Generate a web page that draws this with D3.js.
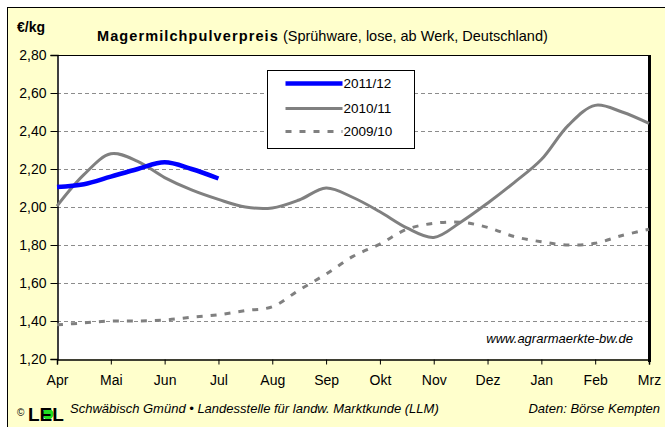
<!DOCTYPE html>
<html>
<head>
<meta charset="utf-8">
<script src="https://cdn.jsdelivr.net/npm/d3@7"></script>
<style>
  body { margin: 0; background: #fff; }
  svg { display: block; font-family: "Liberation Sans", Arial, sans-serif; }
</style>
</head>
<body>
<script>
// Monate (Wirtschaftsjahr April - März)
var months = ["Apr","Mai","Jun","Jul","Aug","Sep","Okt","Nov","Dez","Jan","Feb","Mrz"];

var y2011 = [2.105, 2.12, 2.16, 2.20, 2.235, 2.20, 2.15];
var y2010 = [2.005, 2.17, 2.28, 2.24, 2.155, 2.09, 2.04, 2.00, 1.995, 2.037, 2.10, 2.05,
             1.975, 1.89, 1.84, 1.92, 2.02, 2.13, 2.25, 2.43, 2.535, 2.50, 2.44];
var y2009 = [1.38, 1.39, 1.40, 1.40, 1.405, 1.42, 1.433, 1.455, 1.475, 1.563, 1.647, 1.74,
             1.805, 1.883, 1.914, 1.92, 1.893, 1.844, 1.817, 1.80, 1.809, 1.85, 1.883];

var yTicks = [1.2, 1.4, 1.6, 1.8, 2.0, 2.2, 2.4, 2.6, 2.8];
var seriesNames = ["2011/12", "2010/11", "2009/10"];

var width = 665, height = 427;
var plot = {left: 57, top: 55, right: 649, bottom: 359};

var de = d3.formatLocale({decimal: ",", thousands: ".", grouping: [3], currency: ["", " €"]});
var fmt = de.format(".2f");

var svg = d3.select("body").append("svg")
    .attr("width", width)
    .attr("height", height);

// Hintergrund
svg.append("rect")
    .attr("x", 7.5).attr("y", 7.5)
    .attr("width", 700).attr("height", 500)
    .attr("fill", "#ffffcc")
    .attr("stroke", "#000");

var x = d3.scaleLinear().domain([0, 11]).range([plot.left, plot.right]);
var y = d3.scaleLinear().domain([1.2, 2.8]).range([plot.bottom, plot.top]);

svg.append("rect")
    .attr("x", plot.left).attr("y", plot.top)
    .attr("width", plot.right - plot.left).attr("height", plot.bottom - plot.top)
    .attr("fill", "#fff");

// Gitternetz
svg.append("g").selectAll("line")
    .data(yTicks.slice(1, -1))
    .enter().append("line")
    .attr("x1", plot.left).attr("x2", plot.right)
    .attr("y1", function(d) { return Math.round(y(d)) + 0.5; })
    .attr("y2", function(d) { return Math.round(y(d)) + 0.5; })
    .attr("stroke", "#8c8c8c")
    .attr("stroke-dasharray", "4,3");

// Rahmen oben + rechts
svg.append("line")
    .attr("x1", plot.left).attr("x2", plot.right)
    .attr("y1", plot.top + 0.5).attr("y2", plot.top + 0.5)
    .attr("stroke", "#000");
svg.append("line")
    .attr("x1", plot.right + 0.5).attr("x2", plot.right + 0.5)
    .attr("y1", plot.top).attr("y2", plot.bottom + 3)
    .attr("stroke", "#000").attr("stroke-width", 3);

var yAxis = d3.axisLeft(y).tickValues(yTicks).tickSize(7).tickPadding(4).tickFormat(fmt);
var gy = svg.append("g")
    .attr("transform", "translate(" + (plot.left + 0.5) + ",0)")
    .call(yAxis);
gy.selectAll("text").style("font-size", "14px").attr("fill", "#000");

var xAxis = d3.axisBottom(x).tickValues(d3.range(months.length)).tickSize(5).tickPadding(11)
    .tickFormat(function(i) { return months[i]; });
var gx = svg.append("g")
    .attr("transform", "translate(0," + (plot.bottom + 0.5) + ")")
    .call(xAxis);
gx.selectAll("text").style("font-size", "14px").attr("fill", "#000");
svg.selectAll(".domain").attr("stroke", "#000").attr("stroke-width", 1.5);

// Linien
var line = d3.line()
    .x(function(d, i) { return x(i / 2); })
    .y(function(d) { return y(d); })
    .curve(d3.curveCatmullRom.alpha(0.5));

var styles = [
    {data: y2011, color: "#0000ff", w: 4.5, dash: null},
    {data: y2010, color: "#808080", w: 3, dash: null},
    {data: y2009, color: "#808080", w: 3, dash: "6,8"}
];

var g = svg.append("g");
styles.slice().reverse().forEach(function(s) {
    g.append("path")
        .datum(s.data)
        .attr("d", line)
        .attr("fill", "none")
        .attr("stroke", s.color)
        .attr("stroke-width", s.w)
        .attr("stroke-dasharray", s.dash);
});

// Legende
var legend = svg.append("g").attr("transform", "translate(267.5,70.5)");
legend.append("rect")
    .attr("width", 147).attr("height", 78)
    .attr("fill", "#fff").attr("stroke", "#000");
var rows = legend.selectAll("g.row")
    .data(styles)
    .enter().append("g")
    .attr("transform", function(d, i) { return "translate(0," + [13, 38, 61][i] + ")"; });
rows.append("line")
    .attr("x1", 18).attr("x2", 75)
    .attr("stroke", function(d) { return d.color; })
    .attr("stroke-width", function(d) { return d.w; })
    .attr("stroke-dasharray", function(d) { return d.dash; });
rows.append("text")
    .attr("x", 76).attr("dy", "0.36em")
    .style("font-size", "13.5px")
    .text(function(d, i) { return seriesNames[i]; });

// Texte
svg.append("text")
    .attr("x", 17).attr("y", 32)
    .style("font-size", "14px").style("font-weight", "bold")
    .text("€/kg");

var title = svg.append("text").attr("x", 97).attr("y", 41).style("font-size", "14.5px");
title.append("tspan").style("font-weight", "bold").style("letter-spacing", "1.1px")
    .text("Magermilchpulverpreis");
title.append("tspan").text(" (Sprühware, lose, ab Werk, Deutschland)");

svg.append("text")
    .attr("x", 633).attr("y", 343).attr("text-anchor", "end")
    .style("font-size", "13px").style("font-style", "italic")
    .text("www.agrarmaerkte-bw.de");

// Fußzeile
svg.append("text")
    .attr("x", 17).attr("y", 416)
    .style("font-size", "10px")
    .text("©");
svg.append("circle")
    .attr("cx", 48).attr("cy", 414).attr("r", 5.5)
    .attr("fill", "#22dd22");
svg.append("text")
    .attr("x", 28).attr("y", 421)
    .style("font-size", "19px").style("font-weight", "bold")
    .text("LEL");
svg.append("text")
    .attr("x", 70).attr("y", 413)
    .style("font-size", "13px").style("font-style", "italic")
    .text("Schwäbisch Gmünd • Landesstelle für landw. Marktkunde (LLM)");
svg.append("text")
    .attr("x", 660).attr("y", 413).attr("text-anchor", "end")
    .style("font-size", "13px").style("font-style", "italic")
    .text("Daten: Börse Kempten");
</script>
</body>
</html>
